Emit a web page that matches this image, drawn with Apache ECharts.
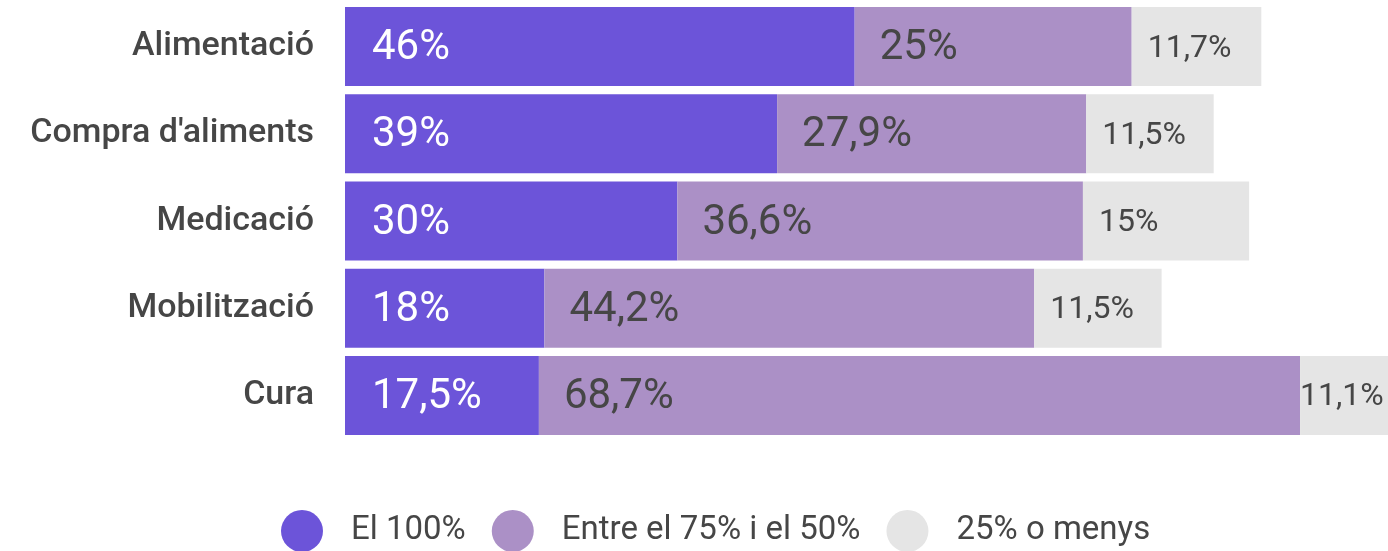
<!DOCTYPE html>
<html lang="ca">
<head>
  <meta charset="UTF-8">
  <title>Cures</title>
  <style>
    html, body { margin: 0; padding: 0; background: #fff; }
    #main { width: 1388px; height: 551px; }
  </style>
</head>
<body>
<div id="main"></div>
<script src="https://cdn.jsdelivr.net/npm/echarts@6/dist/echarts.min.js"></script>
<script>
// dades
var categories = ['Alimentació', "Compra d'aliments", 'Medicació', 'Mobilització', 'Cura'];
var seriesNames = ['El 100%', 'Entre el 75% i el 50%', '25% o menys'];
var full = [46, 39, 30, 18, 17.5];
var half = [25, 27.9, 36.6, 44.2, 68.7];
var low = [11.7, 11.5, 15, 11.5, 11.1];

var colors = ['#6c54d9', '#ab90c6', '#e5e5e5'];
var textColor = '#464646';

function fmt(v) {
  return String(v).replace('.', ',') + '%';
}

function makeSeries(name, data, color, labelColor, size, dist) {
  return {
    name: name,
    type: 'bar',
    stack: 'total',
    barWidth: 79,
    data: data,
    itemStyle: { color: color },
    label: {
      show: true,
      position: 'insideLeft',
      distance: dist,
      offset: [0, 2],
      color: labelColor,
      fontSize: size,
      fontFamily: 'Roboto',
      formatter: function (p) { return fmt(p.value); }
    }
  };
}

var s3 = makeSeries(seriesNames[2], low, colors[2], textColor, 32, 16);
// el darrer tram queda tallat pel marge, l'etiqueta s'apropa
s3.data = low.map(function (v, i) {
  return i === 4 ? { value: v, label: { distance: 0 } } : v;
});

var myChart = echarts.init(document.getElementById('main'));
var option = {
  animation: false,
  grid: {
    left: 345,
    top: 3,
    width: 1108,
    height: 436,
    outerBoundsMode: 'none'
  },
  xAxis: {
    type: 'value',
    min: 0,
    max: 100,
    show: false
  },
  yAxis: {
    type: 'category',
    inverse: true,
    data: categories,
    axisLine: { show: false },
    axisTick: { show: false },
    axisLabel: {
      margin: 31,
      color: textColor,
      fontSize: 34,
      fontWeight: 500,
      fontFamily: 'Roboto',
      padding: [6, 0, 0, 0]
    }
  },
  legend: {
    left: 281,
    top: 510,
    padding: 0,
    icon: 'circle',
    itemWidth: 42,
    itemHeight: 42,
    itemGap: 26,
    textStyle: {
      color: textColor,
      fontSize: 33,
      fontFamily: 'Roboto',
      padding: [0, 0, 0, 23]
    },
    data: seriesNames
  },
  series: [
    makeSeries(seriesNames[0], full, colors[0], '#ffffff', 42, 27),
    makeSeries(seriesNames[1], half, colors[1], textColor, 42, 25),
    s3
  ]
};
myChart.setOption(option);
</script>
</body>
</html>
